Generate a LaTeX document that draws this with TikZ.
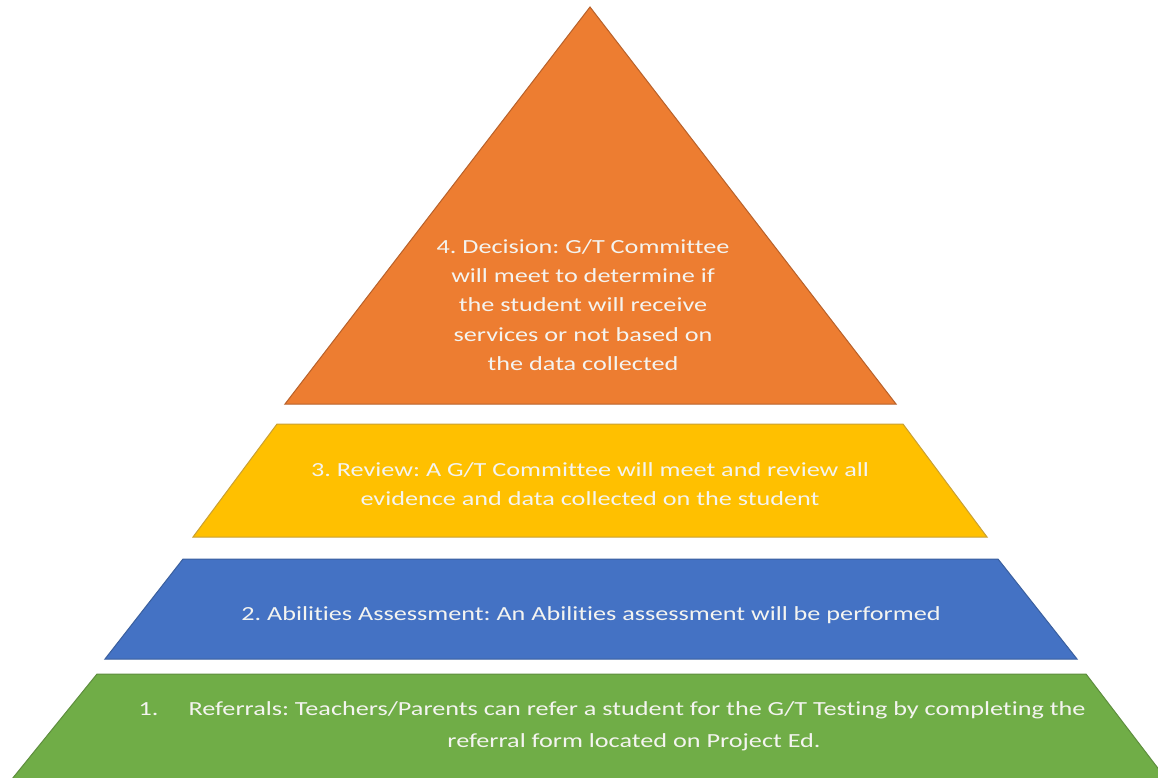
\documentclass[tikz,border=0pt]{standalone}
\usepackage{fontspec}
\setmainfont{Carlito}[FakeStretch=1.31,Ligatures=NoCommon]
\frenchspacing
\definecolor{cOrange}{HTML}{ED7D31}
\definecolor{cOrangeE}{HTML}{B8612A}
\definecolor{cYellow}{HTML}{FFC000}
\definecolor{cYellowE}{HTML}{C9A033}
\definecolor{cBlue}{HTML}{4472C4}
\definecolor{cBlueE}{HTML}{3A5F9E}
\definecolor{cGreen}{HTML}{70AD47}
\definecolor{cGreenE}{HTML}{5E8E3E}
\definecolor{cText}{HTML}{F4F4F0}
\begin{document}
\begin{tikzpicture}[x=1pt,y=-1pt,
  tier/.style={line width=1pt,line join=miter},
  lbl/.style={text=cText,align=center,inner sep=0pt,font=\fontsize{20}{29.3}\selectfont\frenchspacing}]
\useasboundingbox (0,0) rectangle (1158,777);
\fill[white] (0,0) rectangle (1158,777);
\begin{scope}
\clip (0,0) rectangle (1158,777);
% tier 4
\draw[tier,fill=cOrange,draw=cOrangeE] (590,7) -- (896,404) -- (285,404) -- cycle;
% tier 3
\draw[tier,fill=cYellow,draw=cYellowE] (277,424) -- (903,424) -- (987,537) -- (193,537) -- cycle;
% tier 2
\draw[tier,fill=cBlue,draw=cBlueE] (183,559) -- (998,559) -- (1077,659) -- (105,659) -- cycle;
% tier 1
\draw[tier,fill=cGreen,draw=cGreenE] (97,674) -- (1086,674) -- (1170,784) -- (8,784) -- cycle;
\end{scope}
\node[lbl] (t4) at (583,305) {4. Decision: G/T Committee\\will meet to determine if\\the student will receive\\services or not based on\\the data collected};
\node[lbl] (t3) at (590,484) {3. Review: A G/T Committee will meet and review all\\evidence and data collected on the student};
\node[lbl] (t2) at (591,615) {2. Abilities Assessment: An Abilities assessment will be performed};
\node[lbl,font=\fontsize{20}{32}\selectfont\frenchspacing] (t1) at (612,726) {1.\hspace{30pt}Referrals: Teachers/Parents can refer a student for the G/T Testing by completing the\\\hspace*{44pt}referral form located on Project Ed.};
\end{tikzpicture}
\end{document}
